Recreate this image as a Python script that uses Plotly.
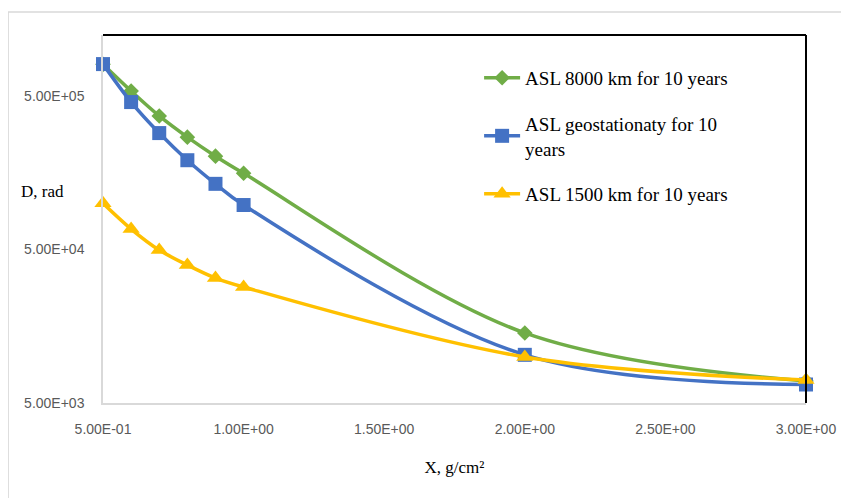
import plotly.graph_objects as go

x_vals = [0.5, 0.6, 0.7, 0.8, 0.9, 1.0, 2.0, 3.0]
asl_8000 = [8.05e5, 5.39e5, 3.71e5, 2.70e5, 2.03e5, 1.57e5, 1.43e4, 6.95e3]
asl_geo = [8.08e5, 4.57e5, 2.87e5, 1.91e5, 1.34e5, 9.75e4, 1.03e4, 6.6e3]
asl_1500 = [1.0e5, 6.8e4, 4.96e4, 3.96e4, 3.26e4, 2.85e4, 9.98e3, 7.06e3]

names = ["ASL 8000 km for 10 years", "ASL geostationaty for 10<br>years", "ASL 1500 km for 10 years"]
colors = ["#70AD47", "#4472C4", "#FFC000"]
symbols = ["diamond", "square", "triangle-up"]
sizes = [12, 14, 15]

x_ticks = [0.5, 1.0, 1.5, 2.0, 2.5, 3.0]
x_tick_text = ["5.00E-01", "1.00E+00", "1.50E+00", "2.00E+00", "2.50E+00", "3.00E+00"]
y_ticks = [5e3, 5e4, 5e5]
y_tick_text = ["5.00E+03", "5.00E+04", "5.00E+05"]

fig = go.Figure()
for i, ys in enumerate([asl_8000, asl_geo, asl_1500]):
    fig.add_trace(go.Scatter(
        x=x_vals, y=ys, name=names[i], mode="lines+markers",
        line=dict(color=colors[i], width=3.5, shape="spline", smoothing=1.0),
        marker=dict(symbol=symbols[i], size=sizes[i], color=colors[i]),
        legendgroup=str(i), cliponaxis=False,
    ))

tick_font = dict(family="Liberation Sans, sans-serif", size=14, color="#595959")
serif = "Liberation Serif, Times New Roman, serif"

fig.update_layout(
    width=841, height=490,
    margin=dict(l=95, r=43, t=27, b=95, autoexpand=False),
    paper_bgcolor="white", plot_bgcolor="white",
    showlegend=True,
    legend=dict(x=0.535, y=0.935, xanchor="left", yanchor="top",
                font=dict(family=serif, size=19, color="#000000"),
                bgcolor="rgba(0,0,0,0)", tracegroupgap=18, traceorder="grouped",
                itemwidth=36),
    xaxis=dict(range=[0.5, 3.0], tickvals=x_ticks, ticktext=x_tick_text,
               tickfont=tick_font, showgrid=False, zeroline=False, automargin=False,
               showline=True, linecolor="#d9d9d9", linewidth=1.5, ticks="",
               ticklabelstandoff=12,
               title=dict(text="X, g/cm²", font=dict(family=serif, size=17, color="#000000"), standoff=26)),
    yaxis=dict(type="log", range=[3.69897, 6.097], tickvals=y_ticks, ticktext=y_tick_text,
               tickfont=tick_font, showgrid=False, zeroline=False, automargin=False,
               showline=True, linecolor="#d9d9d9", linewidth=1.5, ticks="",
               ticklabelstandoff=14),
    shapes=[
        dict(type="line", xref="paper", yref="paper", x0=0, x1=1, y0=1, y1=1,
             line=dict(color="black", width=2)),
        dict(type="line", xref="paper", yref="paper", x0=1, x1=1, y0=0, y1=1,
             line=dict(color="black", width=2)),
        dict(type="rect", xref="paper", yref="paper", x0=-0.135, x1=1.09, y0=-0.26, y1=1.0625,
             line=dict(color="#d9d9d9", width=1.5), layer="below"),
    ],
    annotations=[
        dict(text="D, rad", xref="paper", yref="paper", x=-0.12, y=(403 - 191) / 368,
             xanchor="left", yanchor="middle", showarrow=False,
             font=dict(family=serif, size=17, color="#000000")),
    ],
)

fig.write_html("out.html")
